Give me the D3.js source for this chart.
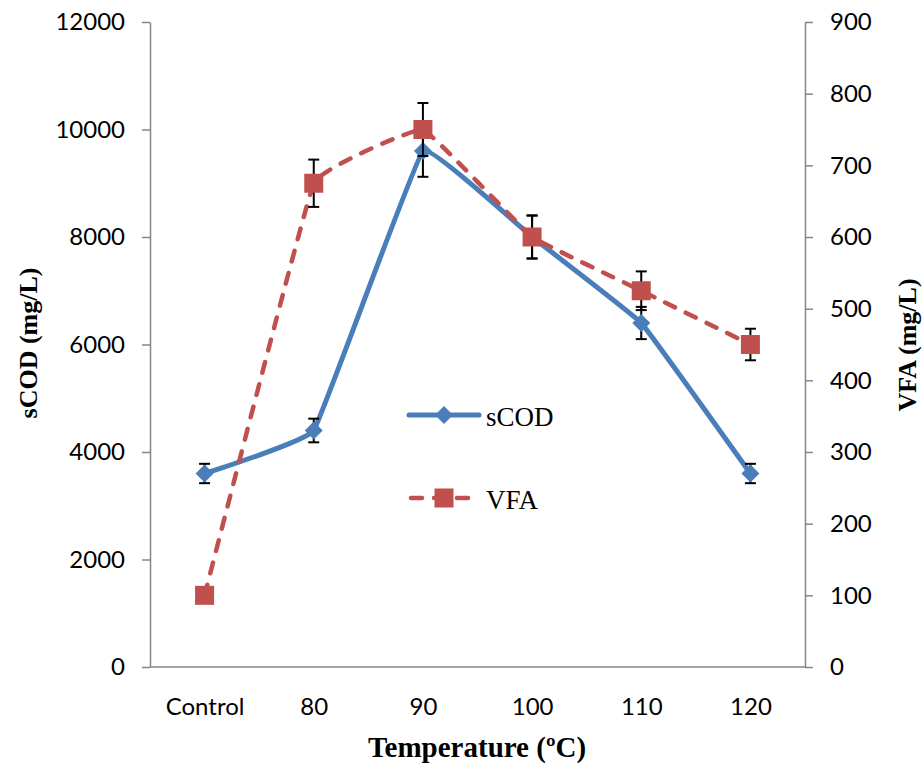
<!DOCTYPE html>
<html>
<head>
<meta charset="utf-8">
<script src="https://cdn.jsdelivr.net/npm/d3@7"></script>
<style>
  html, body { margin: 0; padding: 0; background: #fff; }
  svg { display: block; }
</style>
</head>
<body>
<svg id="chart" width="922" height="763"></svg>
<script>
const categories = ["Control", "80", "90", "100", "110", "120"];
const scodValues = [3600, 4400, 9600, 8000, 6400, 3600];
const scodErrors = [180, 220, 480, 400, 300, 180];
const vfaValues = [100, 675, 750, 600, 525, 450];
const vfaErrors = [0, 33, 37, 30, 27, 22];
const leftTicks = [0, 2000, 4000, 6000, 8000, 10000, 12000];
const rightTicks = [0, 100, 200, 300, 400, 500, 600, 700, 800, 900];
const seriesNames = ["sCOD", "VFA"];

const svg = d3.select("#chart");
const plot = { left: 150, right: 805, top: 22, bottom: 667 };
const tickFont = "Lato, 'Liberation Sans', sans-serif";
const serif = "'Liberation Serif', 'Times New Roman', serif";
const axisColor = "#868686";
const blue = "#4A7EBB";
const red = "#C0504D";

const x = d3.scalePoint().domain(categories).range([plot.left, plot.right]).padding(0.5);
const yL = d3.scaleLinear().domain([0, 12000]).range([plot.bottom, plot.top]);
const yR = d3.scaleLinear().domain([0, 900]).range([plot.bottom, plot.top]);

// Axes
const gL = svg.append("g").attr("transform", `translate(${plot.left},0)`)
  .call(d3.axisLeft(yL).tickValues(leftTicks).tickFormat(d3.format("d")).tickSize(8).tickPadding(17).tickSizeOuter(0));
const gR = svg.append("g").attr("transform", `translate(${plot.right},0)`)
  .call(d3.axisRight(yR).tickValues(rightTicks).tickFormat(d3.format("d")).tickSize(8).tickPadding(17).tickSizeOuter(0));
const gX = svg.append("g").attr("transform", `translate(0,${plot.bottom})`)
  .call(d3.axisBottom(x).tickSize(0).tickPadding(31).tickSizeOuter(0));
gX.select(".domain").attr("d", `M${plot.left},0H${plot.right}`);

[gL, gR, gX].forEach(g => {
  g.selectAll(".domain").attr("stroke", axisColor).attr("stroke-width", 1.5);
  g.selectAll(".tick line").attr("stroke", axisColor).attr("stroke-width", 1.5);
  g.selectAll(".tick text").attr("fill", "#000").style("font-family", tickFont).style("font-size", "24px");
});

// Axis titles
svg.append("text").attr("transform", "translate(37,343) rotate(-90)")
  .attr("text-anchor", "middle").style("font-family", serif).style("font-weight", "bold")
  .style("font-size", "26px").text("sCOD (mg/L)");
svg.append("text").attr("transform", "translate(916,345) rotate(-90)")
  .attr("text-anchor", "middle").style("font-family", serif).style("font-weight", "bold")
  .style("font-size", "26px").text("VFA (mg/L)");
svg.append("text").attr("x", 477).attr("y", 757)
  .attr("text-anchor", "middle").style("font-family", serif).style("font-weight", "bold")
  .style("font-size", "29px").text("Temperature (ºC)");

const curve = d3.curveCardinal.tension(0.8);
const diamond = (s) => `M0,${-s}L${s},0L0,${s}L${-s},0Z`;

function drawSeries(values, errors, yScale, color, dashed, markerType) {
  const pts = values.map((v, i) => [x(categories[i]), yScale(v)]);
  svg.append("path")
    .attr("d", d3.line().curve(curve)(pts))
    .attr("fill", "none").attr("stroke", color).attr("stroke-width", dashed ? 4.5 : 5)
    .attr("stroke-linecap", "round").attr("stroke-linejoin", "round")
    .attr("stroke-dasharray", dashed ? "11,12" : null);
  const eb = svg.append("g");
  values.forEach((v, i) => {
    if (!errors[i]) return;
    const cx = x(categories[i]);
    const y1 = yScale(v + errors[i]), y2 = yScale(v - errors[i]);
    eb.append("line").attr("x1", cx).attr("x2", cx).attr("y1", y1).attr("y2", y2)
      .attr("stroke", "#000").attr("stroke-width", 2);
    [y1, y2].forEach(yy => eb.append("line").attr("x1", cx - 5.5).attr("x2", cx + 5.5)
      .attr("y1", yy).attr("y2", yy).attr("stroke", "#000").attr("stroke-width", 2));
  });
  const mk = svg.append("g");
  pts.forEach(p => {
    if (markerType === "diamond") {
      mk.append("path").attr("d", diamond(9)).attr("transform", `translate(${p[0]},${p[1]})`)
        .attr("fill", color);
    } else {
      mk.append("rect").attr("x", p[0] - 9.5).attr("y", p[1] - 9.5).attr("width", 19).attr("height", 19)
        .attr("fill", color);
    }
  });
}

drawSeries(scodValues, scodErrors, yL, blue, false, "diamond");
drawSeries(vfaValues, vfaErrors, yR, red, true, "square");

// Legend
const legend = svg.append("g");
legend.append("line").attr("x1", 409).attr("x2", 479).attr("y1", 415).attr("y2", 415)
  .attr("stroke", blue).attr("stroke-width", 5).attr("stroke-linecap", "round");
legend.append("path").attr("d", diamond(9)).attr("transform", "translate(444,415)").attr("fill", blue);
legend.append("text").attr("x", 486).attr("y", 426).style("font-family", serif)
  .style("font-size", "27px").text(seriesNames[0]);

legend.append("line").attr("x1", 411).attr("x2", 479).attr("y1", 498).attr("y2", 498)
  .attr("stroke", red).attr("stroke-width", 4.5).attr("stroke-linecap", "round")
  .attr("stroke-dasharray", "11,12");
legend.append("rect").attr("x", 434.5).attr("y", 488.5).attr("width", 19).attr("height", 19).attr("fill", red);
legend.append("text").attr("x", 486).attr("y", 509).style("font-family", serif)
  .style("font-size", "27px").text(seriesNames[1]);
</script>
</body>
</html>
